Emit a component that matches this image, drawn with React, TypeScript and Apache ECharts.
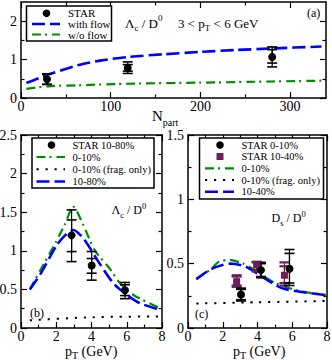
import React, { useEffect, useRef } from 'react';
import * as echarts from 'echarts';

const FONT = "'Liberation Serif', 'Times New Roman', serif";
const BLUE = '#0000ff';
const GREEN = '#008b00';
const PURPLE = '#6e1e57';

// ---------- panel (a): Lambda_c / D0 vs Npart ----------
const aFlowN = [6, 20, 33, 63, 90, 120, 160, 200, 240, 280, 335];
const aFlow = [0.39, 0.52, 0.63, 0.85, 0.98, 1.07, 1.14, 1.2, 1.25, 1.29, 1.34];
const aNoFlowN = [6, 33, 63, 115, 200, 280, 335];
const aNoFlow = [0.24, 0.31, 0.33, 0.37, 0.4, 0.43, 0.45];
const aStarN = [29, 119, 280];
const aStar = [0.49, 0.78, 1.07];
const aStatLo = [0.36, 0.7, 0.91];
const aStatHi = [0.62, 0.87, 1.26];
const aSysLo = [0.35, 0.64, 0.81];
const aSysHi = [0.63, 0.94, 1.33];
const aXMajor = [0, 100, 200, 300];
const aXMinor = [50, 150, 250];
const aYMajor = [0, 1, 2];
const aYMinor = [0.5, 1.5];

// ---------- panel (b): Lambda_c / D0 vs pT ----------
const bGreenPt = [0.5, 1.27, 2.0, 2.5, 2.97, 3.54, 4.2, 5.0, 5.62, 6.37, 7.1, 7.95];
const bGreen = [0.5, 0.82, 1.12, 1.35, 1.57, 1.33, 1.0, 0.78, 0.58, 0.43, 0.34, 0.25];
const bBluePt = [0.5, 1.08, 2.02, 2.5, 2.97, 3.54, 4.39, 5.24, 6.0, 6.76, 7.95];
const bBlue = [0.5, 0.69, 1.07, 1.2, 1.27, 1.16, 0.86, 0.58, 0.43, 0.32, 0.23];
const bFragPt = [0.5, 4.1, 7.95];
const bFrag = [0.1, 0.14, 0.15];
const bStarPt = [2.87, 4.01, 5.9];
const bStar = [1.2, 0.81, 0.49];
const bStatLo = [0.99, 0.71, 0.42];
const bStatHi = [1.4, 0.9, 0.56];
const bSysLo = [0.86, 0.62, 0.38];
const bSysHi = [1.53, 0.99, 0.59];
const bXMajor = [0, 2, 4, 6, 8];
const bXMinor = [1, 3, 5, 7];
const bYMajor = [0, 0.5, 1, 1.5, 2, 2.5];
const bYMinor = [0.25, 0.75, 1.25, 1.75, 2.25];

// ---------- panel (c): Ds / D0 vs pT ----------
const cGreenPt = [0.48, 1.35, 1.73, 2.31, 3.2, 3.86, 5.0, 6.36, 7.95];
const cGreen = [0.38, 0.46, 0.51, 0.53, 0.5, 0.45, 0.35, 0.29, 0.255];
const cBluePt = [0.48, 1.35, 2.41, 3.28, 4.24, 5.4, 6.55, 7.95];
const cBlue = [0.38, 0.46, 0.5, 0.48, 0.4, 0.31, 0.28, 0.255];
const cFragPt = [0.48, 4.0, 7.95];
const cFrag = [0.19, 0.2, 0.21];
const cStarPt = [3.05, 4.2, 5.84];
const cStar = [0.26, 0.45, 0.46];
const cStatLo = [0.22, 0.4, 0.35];
const cStatHi = [0.3, 0.5, 0.58];
const cSysLo = [0.21, 0.39, 0.33];
const cSysHi = [0.31, 0.51, 0.61];
const cStar2Pt = [2.8, 3.95, 5.55];
const cStar2 = [0.36, 0.49, 0.41];
const cStar2StatLo = [0.33, 0.45, 0.35];
const cStar2StatHi = [0.4, 0.51, 0.48];
const cStar2SysLo = [0.32, 0.44, 0.33];
const cStar2SysHi = [0.41, 0.515, 0.51];
const cYMajor = [0, 0.5, 1, 1.5];
const cYMinor = [0.25, 0.75, 1.25];

const zip = (xs: number[], ys: number[]) => xs.map((x, i) => [x, ys[i]]);
const zip3 = (xs: number[], lo: number[], hi: number[]) => xs.map((x, i) => [x, lo[i], hi[i]]);

function axis(grid: number, pos: string, min: number, max: number, ticks: number[], len: number, line: boolean, labels: number[] | null) {
  return {
    type: 'value', gridIndex: grid, position: pos, offset: 0, min, max,
    splitLine: { show: false },
    axisLine: { show: line, onZero: false, lineStyle: { color: '#000', width: 1.5 } },
    axisTick: { show: true, inside: true, length: len, customValues: ticks, lineStyle: { color: '#000', width: 1.2 } },
    minorTick: { show: false },
    axisLabel: labels
      ? {
          show: true, customValues: labels, margin: pos === 'left' ? 4 : 2, color: '#000',
          fontFamily: FONT, fontSize: 14, lineHeight: 12, formatter: (v: number) => String(v),
        }
      : { show: false },
    axisPointer: { show: false },
  };
}

function axesFor(grid: number, dim: 'x' | 'y', min: number, max: number, major: number[], minor: number[], labels: number[]) {
  const p1 = dim === 'x' ? 'bottom' : 'left';
  const p2 = dim === 'x' ? 'top' : 'right';
  return [
    axis(grid, p1, min, max, major, 6, true, labels),
    axis(grid, p1, min, max, minor, 3.5, false, null),
    axis(grid, p2, min, max, major, 6, true, null),
    axis(grid, p2, min, max, minor, 3.5, false, null),
  ];
}

const DASH_BLUE = [13, 5];
const DASH_GREEN = [9, 4, 2, 5];
const DOT = [2.2, 6.8];

function lineSeries(g: number, data: number[][], color: string, dash: number[], width: number) {
  return {
    type: 'line', xAxisIndex: g * 4, yAxisIndex: g * 4, data, showSymbol: false, symbol: 'none',
    smooth: 0.25, lineStyle: { color, width, type: dash }, z: 2, silent: true,
  };
}

function errSeries(g: number, data: number[][], color: string, capW: number) {
  return {
    type: 'custom', xAxisIndex: g * 4, yAxisIndex: g * 4, data, encode: { x: 0, y: [1, 2] }, z: 3,
    renderItem: (_p: any, api: any) => {
      const x = api.value(0);
      const lo = api.coord([x, api.value(1)]);
      const hi = api.coord([x, api.value(2)]);
      const hw = 5;
      return {
        type: 'group',
        children: [
          { type: 'line', shape: { x1: lo[0], y1: lo[1], x2: hi[0], y2: hi[1] }, style: { stroke: color, lineWidth: 1.2 } },
          { type: 'line', shape: { x1: lo[0] - hw, y1: lo[1], x2: lo[0] + hw, y2: lo[1] }, style: { stroke: color, lineWidth: capW } },
          { type: 'line', shape: { x1: hi[0] - hw, y1: hi[1], x2: hi[0] + hw, y2: hi[1] }, style: { stroke: color, lineWidth: capW } },
        ],
      };
    },
  };
}

function scatterSeries(g: number, data: number[][], color: string, symbol: string, size: number) {
  return {
    type: 'scatter', xAxisIndex: g * 4, yAxisIndex: g * 4, data, symbol, symbolSize: size,
    itemStyle: { color, opacity: 1 }, z: 4,
  };
}

let measureCtx: CanvasRenderingContext2D | null = null;
function textWidth(t: string, size: number) {
  if (!measureCtx) measureCtx = document.createElement('canvas').getContext('2d');
  if (!measureCtx) return t.length * size * 0.5;
  measureCtx.font = `${size}px ${FONT}`;
  return measureCtx.measureText(t).width;
}

// segments: [text, fontSize, dy]
function segText(x: number, cy: number, segs: [string, number, number][]) {
  const out: any[] = [];
  let cx = x;
  for (const [t, size, dy] of segs) {
    out.push({
      type: 'text', x: cx, y: cy + dy, z: 20,
      style: { text: t, fontFamily: FONT, fontSize: size, fill: '#000', textAlign: 'left', align: 'left', textVerticalAlign: 'middle', verticalAlign: 'middle' },
    });
    cx += textWidth(t, size);
  }
  return out;
}

function plainText(x: number, cy: number, text: string, size: number) {
  return {
    type: 'text', x, y: cy, z: 20,
    style: { text, fontFamily: FONT, fontSize: size, fill: '#000', textAlign: 'left', align: 'left', textVerticalAlign: 'middle', verticalAlign: 'middle' },
  };
}

function legLine(x1: number, x2: number, y: number, color: string, dash: number[], width: number) {
  return { type: 'line', z: 20, shape: { x1, y1: y, x2, y2: y }, style: { stroke: color, lineWidth: width, lineDash: dash } };
}

function legBox(x: number, y: number, w: number, h: number) {
  return { type: 'rect', z: 19, shape: { x, y, width: w, height: h }, style: { fill: '#fff', stroke: '#000', lineWidth: 1.5 } };
}

function buildOption() {
  const grids = [
    { left: 21, top: 2, width: 305, height: 96 },
    { left: 21, top: 135, width: 141, height: 193 },
    { left: 188, top: 135, width: 139, height: 193 },
  ].map((g) => ({ ...g, containLabel: false, outerBoundsMode: 'none', show: false }));

  const xAxis = [
    ...axesFor(0, 'x', 0, 340, aXMajor, aXMinor, aXMajor),
    ...axesFor(1, 'x', 0, 8, bXMajor, bXMinor, bXMajor),
    ...axesFor(2, 'x', 0, 8, bXMajor, bXMinor, bXMajor),
  ];
  const yAxis = [
    ...axesFor(0, 'y', 0, 2.5, aYMajor, aYMinor, aYMajor),
    ...axesFor(1, 'y', 0, 2.5, bYMajor, bYMinor, bYMajor),
    ...axesFor(2, 'y', 0, 1.5, cYMajor, cYMinor, cYMajor),
  ];

  const series = [
    lineSeries(0, zip(aFlowN, aFlow), BLUE, DASH_BLUE, 2.6),
    lineSeries(0, zip(aNoFlowN, aNoFlow), GREEN, DASH_GREEN, 2.2),
    errSeries(0, zip3(aStarN, aSysLo, aSysHi), '#000', 1.6),
    errSeries(0, zip3(aStarN, aStatLo, aStatHi), '#000', 1.6),
    scatterSeries(0, zip(aStarN, aStar), '#000', 'circle', 8),

    lineSeries(1, zip(bGreenPt, bGreen), GREEN, DASH_GREEN, 2.2),
    lineSeries(1, zip(bFragPt, bFrag), '#000', DOT, 2),
    lineSeries(1, zip(bBluePt, bBlue), BLUE, DASH_BLUE, 2.6),
    errSeries(1, zip3(bStarPt, bSysLo, bSysHi), '#000', 1.6),
    errSeries(1, zip3(bStarPt, bStatLo, bStatHi), '#000', 1.6),
    scatterSeries(1, zip(bStarPt, bStar), '#000', 'circle', 8),

    lineSeries(2, zip(cGreenPt, cGreen), GREEN, DASH_GREEN, 2.2),
    lineSeries(2, zip(cFragPt, cFrag), '#000', DOT, 2),
    lineSeries(2, zip(cBluePt, cBlue), BLUE, DASH_BLUE, 2.6),
    errSeries(2, zip3(cStar2Pt, cStar2SysLo, cStar2SysHi), PURPLE, 2.2),
    errSeries(2, zip3(cStar2Pt, cStar2StatLo, cStar2StatHi), PURPLE, 2.2),
    scatterSeries(2, zip(cStar2Pt, cStar2), PURPLE, 'rect', 7),
    errSeries(2, zip3(cStarPt, cSysLo, cSysHi), '#000', 1.6),
    errSeries(2, zip3(cStarPt, cStatLo, cStatHi), '#000', 1.6),
    scatterSeries(2, zip(cStarPt, cStar), '#000', 'circle', 8),
  ];

  const graphic = [
    // panel (a) legend
    legBox(26.5, 6, 85, 35),
    { type: 'circle', z: 20, shape: { cx: 46.5, cy: 13.3, r: 3.8 }, style: { fill: '#000' } },
    plainText(68, 13.3, 'STAR', 11),
    legLine(32, 60, 24, BLUE, DASH_BLUE, 2.6),
    plainText(68, 24, 'with flow', 11),
    legLine(32, 60, 34.5, GREEN, DASH_GREEN, 2.2),
    plainText(68, 34.5, 'w/o flow', 11),
    ...segText(125, 23, [['Λ', 13, 0], ['c', 9, 5], [' / D', 13, 0], ['0', 9, -5]]),
    ...segText(178, 23, [['3 < p', 13, 0], ['T', 9, 5], [' < 6 GeV', 13, 0]]),
    plainText(307, 13, '(a)', 12),
    ...segText(152, 116, [['N', 15, 0], ['part', 10, 6.5]]),

    // panel (b) legend
    legBox(32, 138, 122, 50),
    { type: 'circle', z: 20, shape: { cx: 51.5, cy: 145, r: 3.8 }, style: { fill: '#000' } },
    plainText(72.5, 145, 'STAR 10-80%', 10.5),
    legLine(36.5, 65, 157, GREEN, DASH_GREEN, 2.2),
    plainText(72.5, 157, '0-10%', 10.5),
    legLine(36.5, 65, 169.3, '#000', DOT, 2),
    plainText(72.5, 169.3, '0-10% (frag. only)', 10.5),
    legLine(36.5, 65, 181.5, BLUE, DASH_BLUE, 2.6),
    plainText(72.5, 181.5, '10-80%', 10.5),
    ...segText(111.5, 210, [['Λ', 12, 0], ['c', 8.5, 4.5], [' / D', 12, 0], ['0', 8.5, -4.5]]),
    plainText(30, 313, '(b)', 12),
    ...segText(65, 351, [['p', 14, 0], ['T', 10, 4], [' (GeV)', 14, 0]]),

    // panel (c) legend
    legBox(199.5, 138, 124, 61),
    { type: 'circle', z: 20, shape: { cx: 220, cy: 145, r: 3.8 }, style: { fill: '#000' } },
    plainText(241.5, 145, 'STAR 0-10%', 10.5),
    { type: 'rect', z: 20, shape: { x: 216.5, y: 153, width: 7, height: 7 }, style: { fill: PURPLE } },
    plainText(241.5, 156.5, 'STAR 10-40%', 10.5),
    legLine(205, 234, 168.3, GREEN, DASH_GREEN, 2.2),
    plainText(241.5, 168.3, '0-10%', 10.5),
    legLine(205, 234, 180, '#000', DOT, 2),
    plainText(241.5, 180, '0-10% (frag. only)', 10.5),
    legLine(205, 234, 191.7, BLUE, DASH_BLUE, 2.6),
    plainText(241.5, 191.7, '10-40%', 10.5),
    ...segText(271.5, 218, [['D', 12, 0], ['s', 8.5, 4.5], [' / D', 12, 0], ['0', 8.5, -4.5]]),
    plainText(195, 314, '(c)', 12),
    ...segText(233, 351, [['p', 14, 0], ['T', 10, 4], [' (GeV)', 14, 0]]),
  ];

  return {
    animation: false,
    backgroundColor: '#fff',
    textStyle: { fontFamily: FONT },
    grid: grids,
    xAxis,
    yAxis,
    series,
    graphic,
  };
}

export default function App() {
  const ref = useRef<HTMLDivElement>(null);
  useEffect(() => {
    const chart = echarts.init(ref.current!, null, { renderer: 'svg' });
    chart.setOption(buildOption() as any);
    return () => chart.dispose();
  }, []);
  return (
    <div
      ref={ref}
      style={{ position: 'fixed', left: 0, top: 0, width: 332, height: 360, background: '#fff' }}
    />
  );
}
